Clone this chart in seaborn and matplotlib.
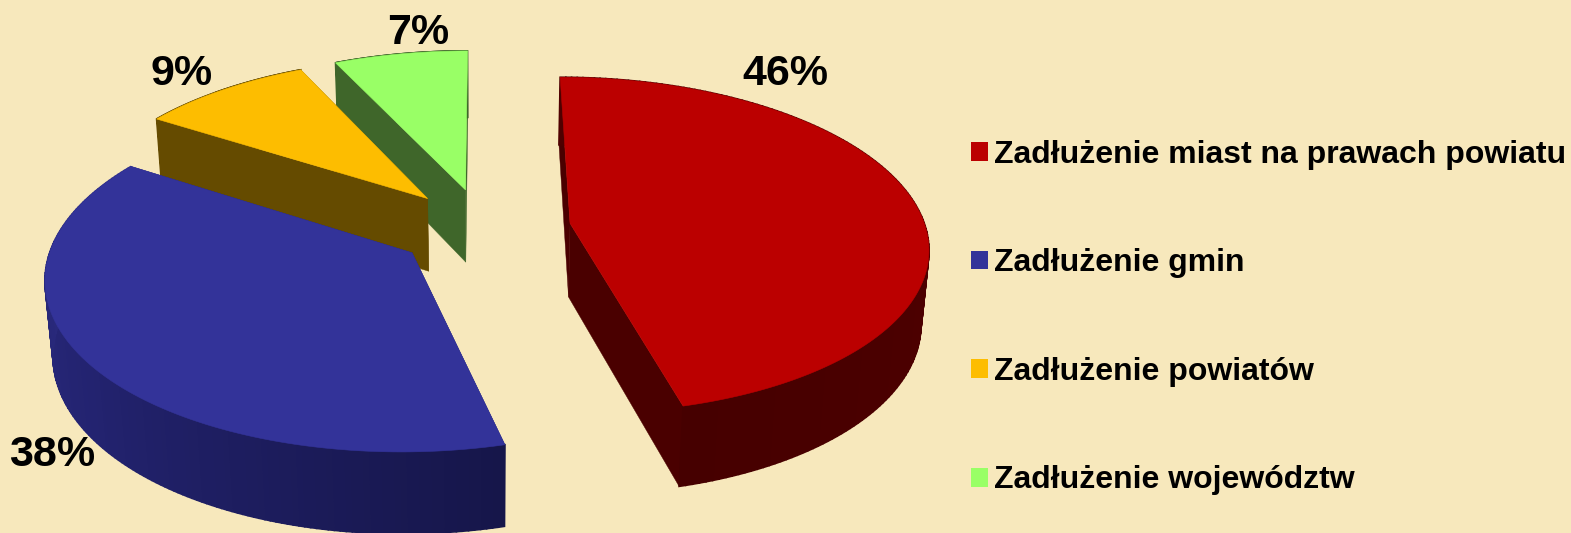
import numpy as np
import matplotlib
matplotlib.use("Agg")
import matplotlib.pyplot as plt
from matplotlib.patches import Patch
import seaborn as sns

categories = ["Zadłużenie miast na prawach powiatu", "Zadłużenie gmin",
              "Zadłużenie powiatów", "Zadłużenie województw"]
values = [46, 38, 9, 7]
pct_labels = ["46%", "38%", "9%", "7%"]

top_colors = ["#bb0000", "#333399", "#fdbd00", "#99ff66"]
side_colors = ["#4a0000", "#232370", "#654b00", "#3f662a"]
rim_ramps = [["#4f0000", "#4f0000", "#460000"], ["#2e2e85", "#232370", "#16164a"],
             ["#654b00", "#654b00"], ["#3f662a", "#3f662a"]]
label_pos = [(784, 74), (52, 454), (181, 74), (417, 33)]
draw_order = [3, 2, 1, 0]

BG = "#f7e8bc"
sns.set_theme(style="white", rc={"figure.facecolor": BG, "axes.facecolor": BG, "savefig.facecolor": BG})
plt.rcParams["font.family"] = ["Liberation Sans"]

# projection parameters (pie plane -> screen)
X0, Y0, A, B, P, DROP, RZ, EXPL = 483, 228, 355, 166, 0.13, 75, 0.018, 0.245


def project(u, v, z=0.0):
    u, v = np.asarray(u, float), np.asarray(v, float)
    w = 1 + P * v + RZ * z
    return X0 + A * u / w, Y0 + (-B * v + DROP * z) / w


fig = plt.figure(figsize=(15.71, 5.33), dpi=100)
ax = fig.add_axes([0, 0, 1, 1])
ax.set_xlim(0, 1568)
ax.set_ylim(532, 0)
ax.axis("off")

shares = np.array(values, float) / np.sum(values) * 2 * np.pi
ends = np.cumsum(shares)
starts = ends - shares

for i in draw_order:
    t0, t1 = starts[i], ends[i]
    mid = (t0 + t1) / 2
    cu, cv = EXPL * np.sin(mid), EXPL * np.cos(mid)
    th = np.linspace(t0, t1, 160)
    ru, rv = cu + np.sin(th), cv + np.cos(th)
    xt, yt = project(ru, rv, 0)
    xb, yb = project(ru, rv, 1)

    # radial side faces
    xc0, yc0 = project(cu, cv, 0)
    xc1, yc1 = project(cu, cv, 1)
    for e in (0, -1):
        ax.fill([xc0, xt[e], xb[e], xc1], [yc0, yt[e], yb[e], yc1], color=side_colors[i], lw=0.3)

    # outer rim
    ramp = sns.blend_palette(rim_ramps[i], len(th) - 1)
    if i == 1:
        ramp = ramp[::-1]
    for k in range(len(th) - 1):
        ax.fill([xt[k], xt[k + 1], xb[k + 1], xb[k]], [yt[k], yt[k + 1], yb[k + 1], yb[k]],
                color=ramp[k], lw=1.2)

    # top face
    ax.fill(np.r_[xc0, xt], np.r_[yc0, yt], color=top_colors[i], lw=0.4)

for lab, (x, y) in zip(pct_labels, label_pos):
    ax.text(x, y, lab, ha="center", va="center", fontsize=31, fontweight="bold", color="black")

handles = [Patch(facecolor=c, edgecolor="none") for c in top_colors]
FS = 23
ax.legend(handles, categories, loc="center left", bbox_to_anchor=(969, 317),
          bbox_transform=ax.transData, frameon=False, ncol=1,
          prop={"family": "Liberation Sans", "weight": "bold", "size": FS},
          handlelength=12.2 / FS, handleheight=12.2 / FS, handletextpad=0.2,
          labelspacing=2.46, borderpad=0, borderaxespad=0, labelcolor="black")

fig.savefig("out.png", dpi=100)
